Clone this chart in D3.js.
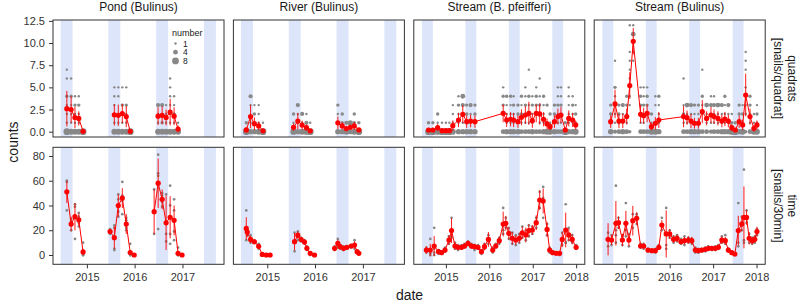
<!DOCTYPE html>
<html>
<head>
<meta charset="utf-8">
<script src="https://cdn.jsdelivr.net/npm/d3@7"></script>
<style>
  body { margin: 0; background: #fff; }
  text { font-family: "Liberation Sans", Arial, sans-serif; }
</style>
</head>
<body>
<svg id="chart" width="800" height="303"></svg>
<script>
const sites = ["Pond (Bulinus)", "River (Bulinus)", "Stream (B. pfeifferi)", "Stream (Bulinus)"];
const methods = [["quadrats", "[snails/quadrat]"], ["time", "[snails/30min]"]];
const seasonStarts = [2014.45, 2015.45, 2016.45, 2017.45];
const seasonEnds = [2014.70, 2015.70, 2016.70, 2017.70];
const xTicks = [2015, 2016, 2017, 2018];
const quadratTicks = [0, 2.5, 5, 7.5, 10, 12.5];
const timeTicks = [0, 20, 40, 60, 80];
const legendSizes = [1, 4, 8];

// quadrat rows: [decimal year, mean, error half-width, "count:n ..." observations]
const pondQuadrats = [
  [[2014.58, 2.6, 2.0, "0:8 1 2 3 4:2 6 7"], [2014.67, 2.5, 1.5, "0:6 1 2 3 4:2 6"],
   [2014.75, 1.6, 1.2, "0:6 1 2 3:2 4"], [2014.83, 1.5, 0.8, "0:6 1 2 3:2 4"], [2014.92, 0.05, 0.1, "0:8"]],
  [[2015.575, 1.9, 1.2, "0:6 1 2 3 4 5"], [2015.658, 1.85, 1.2, "0:6 1 2 4 5"],
   [2015.742, 2.05, 1.1, "0:6 1 2:2 3:2 5"], [2015.825, 1.7, 1.2, "0:6 1 2 3:2 5"], [2015.908, 0.05, 0.1, "0:8"]],
  [[2016.49, 1.75, 1.0, "0:6 1 2 3:3"], [2016.575, 1.85, 1.0, "0:6 1:2 2 3:3"], [2016.658, 1.6, 0.9, "0:6 1 2 3"],
   [2016.742, 2.2, 1.5, "0:6 1 2 3 4 5 6"], [2016.825, 1.75, 1.0, "0:6 1 2:2 3 4"], [2016.908, 0.3, 0.4, "0:6 1"]]
];
const riverQuadrats = [
  [[2014.56, 0.2, 0.3, "0:8 1:2"], [2014.65, 1.7, 1.3, "0:5 1 3 4:3"], [2014.73, 0.9, 0.7, "0:5 1 2:2 3"],
   [2014.82, 0.65, 0.5, "0:6 1 2 3"], [2014.91, 0.1, 0.15, "0:8 1"]],
  [[2015.55, 0.5, 0.4, "0:7 1 2:2"], [2015.64, 1.2, 0.9, "0:5 1 2 3:3"], [2015.73, 0.75, 0.5, "0:6 1 2:3"],
   [2015.82, 0.45, 0.35, "0:7 1:3 2"], [2015.90, 0.1, 0.15, "0:8 1"]],
  [[2016.477, 1.0, 0.7, "0:5 1 2 3:2"], [2016.569, 0.65, 0.4, "0:5 1:2 2:2"], [2016.653, 0.35, 0.3, "0:6 1:3"],
   [2016.736, 0.5, 0.3, "0:5 1:5"], [2016.82, 0.65, 0.45, "0:6 1:2 2:2"], [2016.916, 0.2, 0.2, "0:8 1:2"]]
];
const pfeifferiQuadrats = [[
  [2014.60, 0.19, 0.25, "0:8 1:2"], [2014.70, 0.19, 0.25, "0:8 1:2"], [2014.81, 0.45, 0.4, "0:7 1 2:2"],
  [2014.91, 0.11, 0.15, "0:8 1"], [2015.00, 0.11, 0.15, "0:8 1"], [2015.08, 0.11, 0.15, "0:8 1"],
  [2015.16, 0.68, 0.6, "0:6 1 2 3"], [2015.29, 1.32, 0.8, "0:5 1 2 3:2 4"], [2015.39, 1.96, 1.0, "0:5 1 2 3:3 4:4"],
  [2015.48, 1.13, 0.7, "0:5 1 2:2 3:2"], [2015.57, 1.2, 0.7, "0:5 1 2 3:3"], [2015.67, 1.13, 0.7, "0:5 1 2:2 3:2"],
  [2016.32, 2.07, 1.0, "0:4 2 3:2 4:2 5"], [2016.40, 1.32, 0.8, "0:5 1 2 3 4:2"], [2016.49, 1.4, 0.8, "0:5 1 2 3 4:2"],
  [2016.56, 1.32, 0.8, "0:5 1 2 3:2 4"], [2016.66, 1.13, 0.7, "0:5 1 2:2 3:2"], [2016.74, 1.62, 0.9, "0:4 1 2:2 3 4:2"],
  [2016.83, 1.88, 1.0, "0:4 1 2 3:2 4 5"], [2016.91, 2.07, 1.3, "0:4 1 2 3 4:2 7"], [2016.99, 1.24, 0.8, "0:5 1 2 3:2 4"],
  [2017.08, 2.07, 1.0, "0:4 2 3:2 4:2 5"], [2017.16, 2.0, 1.2, "0:4 1 2 3:2 4 6"], [2017.25, 1.4, 0.8, "0:5 1 2 3 4:2"],
  [2017.33, 0.87, 0.6, "0:6 1:2 3:2"], [2017.40, 0.56, 0.4, "0:6 1 2:2"], [2017.50, 1.13, 0.7, "0:5 1 2:2 3:2"],
  [2017.58, 1.7, 0.9, "0:4 1 2 3:2 4 5"], [2017.65, 1.88, 0.9, "0:4 1 2 3:2 4 5"], [2017.75, 0.19, 0.2, "0:8 1:2"],
  [2017.83, 1.5, 0.9, "0:5 1 2 3 4 5"], [2017.92, 1.32, 0.8, "0:5 1 2 3:2 4"], [2017.99, 0.76, 0.5, "0:6 1 2:2 3"]
]];
const streamQuadrats = [[
  [2014.64, 1.13, 0.7, "0:5 1 2:2 3:2"], [2014.74, 3.13, 1.6, "0:3 1 2 3 4 5:2 8"], [2014.83, 1.2, 0.8, "0:4 1:2 2:2 3:2"],
  [2014.92, 1.2, 0.8, "0:5 1 2 3:3"], [2015.01, 1.7, 0.9, "0:4 1 2 3:2 4:2"], [2015.08, 5.2, 1.5, "0:2 3 4 5 6 7 8 9 12"],
  [2015.16, 10.2, 1.5, "8 9 10 11:4 12"], [2015.33, 1.96, 1.0, "0:4 1 3:2 4:2 5"], [2015.40, 1.8, 0.9, "0:4 1 2 3:2 4 5"],
  [2015.48, 2.07, 1.0, "0:4 2 3:2 4:2 5"], [2015.58, 0.56, 0.4, "0:6 1 2:2"], [2015.67, 0.95, 0.7, "0:6 1:2 3 4"],
  [2015.75, 1.32, 0.9, "0:5 1 2 3 4:2"], [2016.32, 1.7, 1.2, "0:4 1 2:2 3 6"], [2016.40, 1.58, 0.8, "0:4 1 2 3:4"],
  [2016.49, 1.2, 0.8, "0:5 1 2 3:3"], [2016.57, 0.95, 0.6, "0:5 1:2 2 3:2"], [2016.66, 0.95, 0.6, "0:5 1:2 2 3:2"],
  [2016.75, 2.26, 1.3, "0:4 2 3 4:2 7"], [2016.85, 1.5, 0.8, "0:4 1 2 3:4"], [2016.95, 1.88, 0.9, "0:3 1 2 3:3 4"],
  [2017.02, 1.7, 0.8, "0:4 1 2 3:3 4"], [2017.11, 1.5, 0.8, "0:4 1 2 3:4"], [2017.20, 1.2, 0.7, "0:5 1 2 3:3"],
  [2017.27, 1.43, 0.8, "0:5 1 2 3 4:2"], [2017.35, 1.2, 0.7, "0:5 1 2 3:3"], [2017.43, 0.45, 0.4, "0:7 1:2 2"],
  [2017.51, 0.19, 0.2, "0:8 1:2"], [2017.60, 1.13, 0.7, "0:5 1 2:2 3:2"], [2017.68, 0.76, 0.6, "0:6 1 2:2 3"],
  [2017.75, 4.14, 2.4, "0:2 2 3 4 5 7 8 9"], [2017.85, 1.7, 0.9, "0:4 1 2 3:2 4:2"], [2017.94, 0.38, 0.4, "0:6 1 2"],
  [2018.01, 0.76, 0.5, "0:6 1 2:2 3"]
]];

// time rows: [decimal year, mean, error half-width, observations]
const pondTime = [
  [[2014.58, 51, 9, [59, 60, 50, 36]], [2014.67, 25, 6, [29, 20, 24, 27]], [2014.75, 31, 11, [41, 39, 13, 31]],
   [2014.83, 28.5, 5, [34, 31, 26, 23]], [2014.92, 2.5, 2.5, [0, 0, 0, 10]]],
  [[2015.486, 19, 2, [17, 19, 21]], [2015.575, 14, 9, [4, 5, 24, 22]], [2015.658, 40, 9, [49, 35, 31, 45]],
   [2015.742, 46, 8, [59, 48, 44, 33]], [2015.825, 25, 8, [28, 30, 20, 22]], [2015.908, 2, 2, [9, 0, 0, 0]],
   [2015.992, 0, 0, [0, 0, 0]]],
  [[2016.408, 35, 18, [17, 53, 35, 35]], [2016.492, 58, 20, [81, 66, 64, 21]], [2016.575, 45, 8, [48, 39, 50, 43]],
   [2016.658, 26, 22, [49, 17, 11, 27]], [2016.742, 30.5, 17, [56, 40, 17, 9]], [2016.825, 28, 12, [45, 36, 19, 12]],
   [2016.908, 1.4, 1.5, [6, 0, 0, 0]], [2016.992, 0, 0, [0, 0, 0]]]
];
const riverTime = [
  [[2014.56, 21.5, 9, [36, 20, 12, 18]], [2014.58, 18.5, 4, [20, 16, 19]], [2014.65, 12.6, 3, [16, 12, 10]],
   [2014.73, 10.7, 2, [12, 10, 10]], [2014.82, 7, 2, [7, 5, 9]], [2014.895, 0.5, 0.5, [0, 0, 1]],
   [2014.98, 0, 0, [0, 0, 0]], [2015.06, 0, 0, [0, 0, 0]]],
  [[2015.571, 10.8, 7, [3, 18, 11]], [2015.64, 16, 3, [19, 17, 12]], [2015.71, 12.5, 2, [14, 11]],
   [2015.78, 10.5, 2, [12, 9, 11]], [2015.83, 5.4, 2, [7, 4]], [2015.90, 1.3, 1, [2, 0]], [2015.99, 0, 0, [0, 0]]],
  [[2016.41, 5.4, 2, [4, 7]], [2016.477, 9.4, 3, [13, 6]], [2016.527, 6.7, 2, [8, 5]], [2016.596, 5.4, 1.5, [5, 4, 7]],
   [2016.665, 6.2, 1.5, [7, 5]], [2016.757, 7.3, 1.5, [8, 6]], [2016.826, 8.1, 3, [12, 5]], [2016.88, 2.7, 1, [3, 2]],
   [2016.916, 1.3, 1, [1, 2]]]
];
const pfeifferiTime = [[
  [2014.55, 4.0, 3, [2, 6, 4]], [2014.64, 4.0, 5, [13, 1, 0, 2]], [2014.73, 7.3, 8, [22, 2, 0, 5]],
  [2014.83, 2.7, 2, [4, 2, 1, 4]], [2014.90, 1.9, 1.5, [1, 3, 2]], [2014.98, 4.0, 2, [6, 3, 3]],
  [2015.07, 12.1, 4, [15, 9, 12]], [2015.13, 19.7, 10, [30, 14, 15]], [2015.21, 7.3, 3, [5, 10, 7]],
  [2015.28, 6.2, 2, [4, 8, 7]], [2015.36, 6.2, 2, [8, 5, 6]], [2015.43, 7.3, 2, [9, 6, 7]],
  [2015.51, 9.4, 2, [11, 8, 9]], [2015.59, 7.3, 2, [9, 6, 7]], [2015.66, 6.7, 2, [4, 8, 8]],
  [2015.74, 6.2, 2, [8, 5, 6]], [2015.82, 2.7, 2, [4, 1, 3]], [2015.89, 6.7, 3, [9, 5, 6]],
  [2015.98, 12.6, 6, [16, 9, 13]], [2016.08, 4.0, 2, [6, 2, 4]], [2016.15, 7.3, 2, [9, 6, 7]],
  [2016.23, 11.6, 3, [14, 9, 12]], [2016.32, 25.0, 10, [38, 20, 17]], [2016.38, 25.6, 6, [30, 22, 25]],
  [2016.45, 17.5, 5, [22, 13, 17]], [2016.53, 13.5, 5, [18, 9, 14]], [2016.61, 12.1, 4, [8, 16, 12]],
  [2016.69, 13.5, 4, [17, 10, 14]], [2016.76, 18.0, 5, [23, 14, 17]], [2016.84, 16.2, 6, [20, 12, 17]],
  [2016.91, 19.7, 5, [24, 15, 20]], [2016.99, 20.2, 4, [23, 17, 21]], [2017.08, 26.1, 6, [30, 22, 26]],
  [2017.16, 44.4, 8, [51, 38, 44]], [2017.24, 43.6, 10, [55, 30, 46]], [2017.33, 20.7, 6, [25, 16, 21]],
  [2017.39, 4.0, 2, [6, 2, 4]], [2017.46, 1.9, 1, [3, 1, 2]], [2017.54, 1.3, 1, [2, 1, 1]],
  [2017.62, 1.3, 1, [2, 0, 2]], [2017.68, 12.6, 6, [8, 18, 12]], [2017.76, 20.2, 14, [41, 10, 10]],
  [2017.83, 16.2, 5, [22, 12, 15]], [2017.91, 12.6, 4, [16, 10, 12]], [2018.00, 6.2, 2, [8, 5, 6]]
]];
const streamTime = [[
  [2014.58, 12.7, 13, [18, 7, 13]], [2014.66, 12.1, 4, [16, 8, 12]], [2014.76, 25.6, 18, [56, 10, 20, 16]],
  [2014.82, 26.1, 5, [30, 22, 26]], [2014.91, 12.1, 5, [8, 16, 12]], [2014.99, 25.6, 10, [42, 20, 15]],
  [2015.06, 12.1, 5, [7, 17, 12]], [2015.15, 27.7, 12, [33, 22, 28]], [2015.24, 29.6, 5, [33, 25, 31]],
  [2015.33, 7.3, 2, [9, 6, 7]], [2015.40, 7.3, 2, [5, 8, 9]], [2015.50, 4.0, 1, [5, 3, 4]],
  [2015.59, 3.5, 1, [4, 3, 3]], [2015.67, 3.5, 1.5, [2, 5, 3]], [2015.75, 6.2, 2, [8, 5, 6]],
  [2015.82, 24.2, 4, [30, 20, 23]], [2015.92, 17.0, 19, [38, 8, 5]], [2016.00, 17.0, 4, [20, 14, 17]],
  [2016.09, 12.7, 3, [15, 10, 13]], [2016.17, 13.5, 3, [16, 11, 14]], [2016.26, 10.8, 2, [13, 9, 10]],
  [2016.34, 11.6, 3, [15, 8, 12]], [2016.43, 12.1, 3, [14, 10, 12]], [2016.51, 11.6, 3, [13, 9, 13]],
  [2016.59, 4.0, 2, [6, 2, 4]], [2016.66, 3.5, 2, [5, 2, 3]], [2016.74, 4.0, 1.5, [5, 3, 4]],
  [2016.82, 4.6, 2, [6, 3, 5]], [2016.89, 5.4, 2, [7, 4, 5]], [2016.97, 5.4, 2, [6, 4, 6]],
  [2017.05, 5.4, 2, [7, 4, 5]], [2017.12, 6.2, 2, [8, 5, 6]], [2017.20, 12.1, 3, [15, 10, 11]],
  [2017.28, 11.6, 3, [16, 9, 10]], [2017.35, 4.0, 2, [5, 3, 4]], [2017.43, 1.9, 1, [3, 1, 2]],
  [2017.50, 0.8, 1, [1, 0, 1]], [2017.58, 19.7, 12, [42, 10, 7]], [2017.66, 25.1, 6, [31, 20, 24]],
  [2017.71, 30.4, 25, [69, 12, 10]], [2017.77, 30.4, 6, [36, 26, 29]], [2017.83, 13.5, 5, [17, 10, 14]],
  [2017.90, 11.6, 3, [14, 9, 12]], [2017.96, 12.7, 3, [15, 10, 13]], [2018.01, 18.9, 4, [21, 16, 20]]
]];

const quadratPanels = [pondQuadrats, riverQuadrats, pfeifferiQuadrats, streamQuadrats];
const timePanels = [pondTime, riverTime, pfeifferiTime, streamTime];
const xDomains = [[2014.29, 2017.87], [2014.29, 2017.87], [2014.26, 2018.2], [2014.26, 2018.2]];

const svg = d3.select("#chart");
const W = 171, H = 117, gapX = 9.4, left0 = 53;
const tops = [20, 147.3];
const grey = "#888888", red = "#ff0000";

function toDate(y) {
    const yr = Math.floor(y);
    const a = new Date(yr, 0, 1), b = new Date(yr + 1, 0, 1);
    return new Date(+a + (y - yr) * (b - a));
}

// "0:8 1 2:2" -> [[0,8],[1,1],[2,2]]
function parseCounts(s) {
    return s.split(" ").map(t => {
        const p = t.split(":");
        return [+p[0], p.length > 1 ? +p[1] : 1];
    });
}

const yScales = [
    d3.scaleLinear().domain([-0.6, 12.6]).range([H, 0]),
    d3.scaleLinear().domain([-7.5, 87]).range([H, 0])
];
const size = d3.scaleSqrt().domain([0, 8]).range([0, 3.4]).clamp(true);

sites.forEach((site, c) => {
    const x = d3.scaleTime().domain(xDomains[c].map(toDate)).range([0, W]);
    const px = left0 + c * (W + gapX);

    svg.append("text")
        .attr("x", px + W / 2).attr("y", 7)
        .attr("text-anchor", "middle").attr("dominant-baseline", "central")
        .attr("font-size", 12).attr("fill", "#1a1a1a")
        .text(site);

    [quadratPanels[c], timePanels[c]].forEach((seasons, r) => {
        const y = yScales[r];
        const g = svg.append("g").attr("transform", `translate(${px},${tops[r]})`);

        // season bands
        const bands = seasonStarts.map((s, i) => [Math.max(x(toDate(s)), 0), Math.min(x(toDate(seasonEnds[i])), W)])
            .filter(b => b[1] > b[0]);
        g.selectAll("rect.band").data(bands).join("rect")
            .attr("class", "band")
            .attr("x", d => d[0]).attr("y", 0)
            .attr("width", d => d[1] - d[0]).attr("height", H)
            .attr("fill", "#dce5f9");

        // single observations
        const rows = seasons.flat();
        let obs;
        if (r === 0) {
            obs = rows.flatMap(d => parseCounts(d[3]).map(p => ({ t: d[0], v: p[0], n: p[1] })));
        } else {
            obs = rows.flatMap(d => d[3].map(v => ({ t: d[0], v: v, n: 1.3 })));
        }
        g.selectAll("circle.obs").data(obs).join("circle")
            .attr("class", "obs")
            .attr("cx", d => x(toDate(d.t)))
            .attr("cy", d => y(d.v))
            .attr("r", d => size(d.n))
            .attr("fill", grey);

        // error bars
        g.selectAll("line.err").data(rows).join("line")
            .attr("class", "err")
            .attr("x1", d => x(toDate(d[0]))).attr("x2", d => x(toDate(d[0])))
            .attr("y1", d => y(d[1] - d[2])).attr("y2", d => y(d[1] + d[2]))
            .attr("stroke", red).attr("stroke-width", 0.9);

        // mean lines, one per season
        const line = d3.line().x(d => x(toDate(d[0]))).y(d => y(d[1]));
        g.selectAll("path.mean").data(seasons).join("path")
            .attr("class", "mean")
            .attr("d", line)
            .attr("fill", "none").attr("stroke", red).attr("stroke-width", 1);

        g.selectAll("circle.mean").data(rows).join("circle")
            .attr("class", "mean")
            .attr("cx", d => x(toDate(d[0])))
            .attr("cy", d => y(d[1]))
            .attr("r", 2.6)
            .attr("fill", red);

        g.append("rect")
            .attr("width", W).attr("height", H)
            .attr("fill", "none").attr("stroke", "#333").attr("stroke-width", 1);

        if (c === 0) {
            const ax = g.append("g").call(d3.axisLeft(y)
                .tickValues(r === 0 ? quadratTicks : timeTicks)
                .tickFormat(r === 0 ? d3.format(".1f") : d3.format("d"))
                .tickSize(4).tickPadding(4));
            styleAxis(ax);
        }
        if (r === 1) {
            const ticks = xTicks.map(toDate).filter(d => d >= x.domain()[0] && d <= x.domain()[1]);
            const ax = g.append("g").attr("transform", `translate(0,${H})`)
                .call(d3.axisBottom(x).tickValues(ticks).tickFormat(d3.timeFormat("%Y"))
                    .tickSize(4).tickPadding(5));
            styleAxis(ax);
        }

        // method strip on the right
        if (c === 3) {
            const cy = tops[r] + H / 2;
            methods[r].forEach((label, i) => {
                svg.append("text")
                    .attr("transform", `translate(${i === 0 ? 791.5 : 778},${cy}) rotate(90)`)
                    .attr("text-anchor", "middle").attr("dominant-baseline", "central")
                    .attr("font-size", 12).attr("fill", "#1a1a1a")
                    .text(label);
            });
        }
    });
});

function styleAxis(ax) {
    ax.select(".domain").remove();
    ax.selectAll(".tick line").attr("stroke", "#333");
    ax.selectAll(".tick text").attr("fill", "#333").attr("font-size", 11)
        .attr("font-family", "Liberation Sans, Arial, sans-serif");
}

// axis titles
svg.append("text")
    .attr("transform", `translate(13,142) rotate(-90)`)
    .attr("text-anchor", "middle").attr("dominant-baseline", "central")
    .attr("font-size", 14).attr("fill", "#1a1a1a")
    .text("counts");
svg.append("text")
    .attr("x", 409.5).attr("y", 295)
    .attr("text-anchor", "middle").attr("dominant-baseline", "central")
    .attr("font-size", 14).attr("fill", "#1a1a1a")
    .text("date");

// size legend inside the first panel
const legend = svg.append("g").attr("transform", "translate(172,0)");
legend.append("text")
    .attr("x", 0).attr("y", 32.5)
    .attr("dominant-baseline", "central")
    .attr("font-size", 9).attr("fill", "#1a1a1a")
    .text("number");
legend.selectAll("circle").data(legendSizes).join("circle")
    .attr("cx", 3.5).attr("cy", (d, i) => 43.5 + i * 8.7)
    .attr("r", d => size(d)).attr("fill", grey);
legend.selectAll("text.lab").data(legendSizes).join("text")
    .attr("class", "lab")
    .attr("x", 11).attr("y", (d, i) => 43.5 + i * 8.7)
    .attr("dominant-baseline", "central")
    .attr("font-size", 8.5).attr("fill", "#1a1a1a")
    .text(d => d);
</script>
</body>
</html>
